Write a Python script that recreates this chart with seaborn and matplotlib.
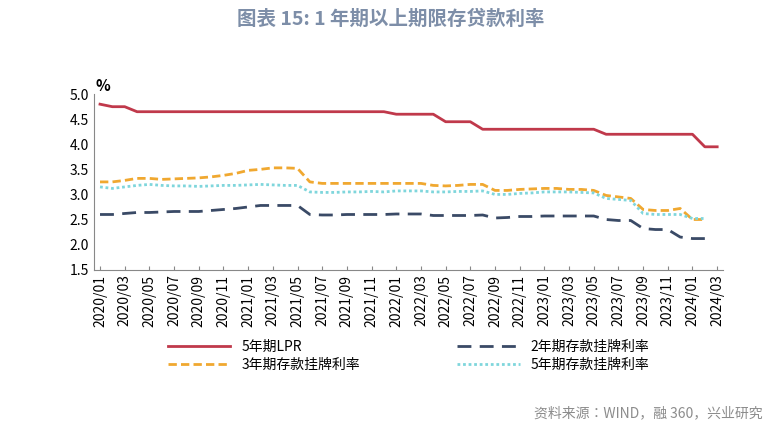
import matplotlib
matplotlib.use("Agg")
import matplotlib.pyplot as plt
from matplotlib import font_manager as fm
import seaborn as sns
import numpy as np
import glob

cjk = None
for f in glob.glob("/usr/share/fonts/**/*CJK*", recursive=True) + glob.glob("/usr/local/share/fonts/**/*CJK*", recursive=True):
    try:
        fm.fontManager.addfont(f)
        name = fm.FontProperties(fname=f).get_name()
        if "SC" in name or cjk is None:
            cjk = name
    except Exception:
        pass
plt.rcParams["font.family"] = [cjk or "Noto Sans CJK SC", "DejaVu Sans"]

months = [f"{y}/{m:02d}" for y in range(2020, 2025) for m in range(1, 13)][:51]
lpr5 = [4.80,4.75,4.75,4.65,4.65,4.65,4.65,4.65,4.65,4.65,4.65,4.65,
        4.65,4.65,4.65,4.65,4.65,4.65,4.65,4.65,4.65,4.65,4.65,4.65,
        4.60,4.60,4.60,4.60,4.45,4.45,4.45,4.30,4.30,4.30,4.30,4.30,
        4.30,4.30,4.30,4.30,4.30,4.20,4.20,4.20,4.20,4.20,4.20,4.20,
        4.20,3.95,3.95]
d2 = [2.60,2.60,2.62,2.64,2.64,2.65,2.66,2.66,2.66,2.68,2.70,2.72,
      2.75,2.78,2.78,2.78,2.78,2.60,2.59,2.59,2.60,2.60,2.60,2.60,
      2.61,2.61,2.61,2.58,2.58,2.58,2.58,2.59,2.53,2.54,2.56,2.56,
      2.57,2.57,2.57,2.57,2.57,2.50,2.48,2.48,2.32,2.30,2.30,2.15,
      2.12,2.12]
d3 = [3.25,3.25,3.28,3.32,3.32,3.30,3.31,3.32,3.33,3.35,3.38,3.42,
      3.48,3.50,3.53,3.53,3.52,3.25,3.22,3.22,3.22,3.22,3.22,3.22,
      3.22,3.22,3.22,3.18,3.17,3.18,3.20,3.20,3.08,3.08,3.10,3.11,
      3.12,3.12,3.10,3.10,3.08,2.98,2.95,2.92,2.70,2.68,2.68,2.72,
      2.50,2.50]
d5 = [3.15,3.12,3.15,3.18,3.20,3.18,3.17,3.17,3.16,3.17,3.18,3.18,
      3.19,3.20,3.19,3.18,3.18,3.05,3.04,3.04,3.05,3.05,3.06,3.05,
      3.07,3.07,3.07,3.05,3.05,3.06,3.06,3.07,3.00,3.00,3.02,3.03,
      3.05,3.05,3.05,3.04,3.03,2.92,2.90,2.88,2.62,2.60,2.60,2.60,
      2.52,2.52]

fig, ax = plt.subplots(figsize=(7.82, 4.28), dpi=100)
fig.subplots_adjust(left=0.12, right=0.925, top=0.78, bottom=0.37)
x = np.arange(len(months))
sns.lineplot(x=x, y=lpr5, ax=ax, color="#c0394b", lw=2, label="5年期LPR")
sns.lineplot(x=x[:len(d2)], y=d2, ax=ax, color="#3a4a66", lw=2, ls=(0, (5, 3)), label="2年期存款挂牌利率")
sns.lineplot(x=x[:len(d3)], y=d3, ax=ax, color="#f0a830", lw=2, ls=(0, (3, 1.5)), label="3年期存款挂牌利率")
sns.lineplot(x=x[:len(d5)], y=d5, ax=ax, color="#7fd6dc", lw=2, ls=(0, (1, 1)), label="5年期存款挂牌利率")

ax.set_ylim(1.5, 5.0)
ax.set_yticks(np.arange(1.5, 5.01, 0.5))
ax.set_yticklabels([f"{v:.1f}" for v in np.arange(1.5, 5.01, 0.5)], fontsize=10)
ax.set_xlim(-0.5, len(months) - 0.5)
ax.set_xticks(x[::2])
ax.set_xticklabels(months[::2], rotation=90, fontsize=10)
for s in ["top", "right"]:
    ax.spines[s].set_visible(False)
ax.spines["left"].set_color("#888888")
ax.spines["bottom"].set_color("#888888")
ax.tick_params(axis="y", length=0)
ax.tick_params(axis="x", direction="in", length=3, color="#888888")
ax.text(0.015, 1.0, "%", transform=ax.transAxes, fontsize=11, fontweight="bold", ha="center", va="bottom")
h, l = ax.get_legend_handles_labels()
order = [0, 2, 1, 3]
ax.legend([h[i] for i in order], [l[i] for i in order], loc="upper center",
          bbox_to_anchor=(0.5, -0.33), ncol=2, frameon=False,
          fontsize=10, handlelength=4.5, columnspacing=7, labelspacing=0.3)
fig.text(0.5, 0.955, "图表 15: 1 年期以上期限存贷款利率", ha="center", va="center",
         fontsize=14, fontweight="bold", color="#7d8ea8")
fig.text(0.975, 0.035, "资料来源：WIND，融 360，兴业研究", ha="right", va="center",
         fontsize=10, color="#8c8c8c")
fig.savefig("out.png", dpi=100)
